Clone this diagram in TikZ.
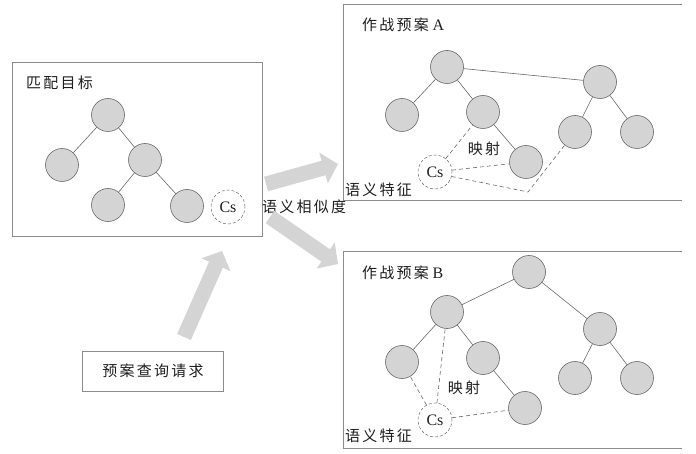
\documentclass[tikz,border=0pt]{standalone}
\usepackage{fontspec}
\setmainfont{Liberation Serif}
\newfontfamily\cjk[LetterSpace=15]{Noto Sans CJK SC}
\usetikzlibrary{arrows.meta}
\definecolor{nodegray}{RGB}{212,212,212}
\definecolor{linegray}{RGB}{105,105,105}
\definecolor{boxgray}{RGB}{140,140,140}
\definecolor{arrowgray}{RGB}{212,212,212}
\definecolor{textgray}{RGB}{30,30,30}

\begin{document}
\begin{tikzpicture}[x=1pt, y=-1pt,
    vertex/.style={circle, draw=linegray, fill=nodegray, minimum size=33pt, inner sep=0pt, line width=0.6pt},
    csnode/.style={circle, draw=linegray, densely dashed, minimum size=34pt, inner sep=0pt, text=textgray, font=\fontsize{16}{16}\selectfont, line width=0.5pt},
    edge/.style={draw=linegray, line width=0.6pt},
    mapedge/.style={draw=linegray, dash pattern=on 4pt off 3pt, line width=0.6pt},
    boxline/.style={draw=boxgray, line width=0.7pt},
    cntext/.style={text=textgray, inner sep=0pt, font=\fontsize{15}{18}\selectfont},
    bigarrow/.style={draw=arrowgray, line width=15pt, -{Triangle[width=31pt, length=15pt]}}]
\useasboundingbox (0,0) rectangle (696,454);

% matching target
\draw[boxline] (12,62) rectangle (262,236);
\node[cntext, anchor=west] (titleM) at (26,83) {\cjk 匹配目标};
\node[vertex] (m1) at (108,115) {};
\node[vertex] (m2) at (62,165) {};
\node[vertex] (m3) at (145,160) {};
\node[vertex] (m4) at (108,205) {};
\node[vertex] (m5) at (187,206) {};
\node[csnode] (csM) at (228,207) {Cs};
\draw[edge] (m1) -- (m2);
\draw[edge] (m1) -- (m3);
\draw[edge] (m3) -- (m4);
\draw[edge] (m3) -- (m5);
\node[cntext, anchor=west] (simtext) at (262,207) {\cjk 语义相似度};

% plan A
\draw[boxline] (682,4) -- (343,4) -- (343,200) -- (682,200);
\node[cntext, anchor=west] (titleA) at (362,25) {{\cjk 作战预案} {\fontsize{16}{18}\selectfont A}};
\node[vertex] (a1) at (447,67) {};
\node[vertex] (a2) at (402,115) {};
\node[vertex] (a3) at (483,112) {};
\node[vertex] (a4) at (526,162) {};
\node[vertex] (a5) at (600,82) {};
\node[vertex] (a6) at (575,132) {};
\node[vertex] (a7) at (637,132) {};
\node[csnode] (csA) at (435,172) {Cs};
\coordinate (bendA) at (528,192);
\draw[edge] (a1) -- (a2);
\draw[edge] (a1) -- (a3);
\draw[edge] (a3) -- (a4);
\draw[edge] (a1) -- (a5);
\draw[edge] (a5) -- (a6);
\draw[edge] (a5) -- (a7);
\draw[mapedge] (csA) -- (a3);
\draw[mapedge] (csA) -- (a4);
\draw[mapedge] (csA.-15) -- (bendA) -- (a6);
\node[cntext] (mapA) at (484,149) {\cjk 映射};
\node[cntext, anchor=west] (semA) at (345,190) {\cjk 语义特征};

% plan B
\draw[boxline] (682,251) -- (343,251) -- (343,448) -- (682,448);
\node[cntext, anchor=west] (titleB) at (362,273) {{\cjk 作战预案} {\fontsize{16}{18}\selectfont B}};
\node[vertex] (b1) at (529,272) {};
\node[vertex] (b2) at (447,312) {};
\node[vertex] (b3) at (600,329) {};
\node[vertex] (b4) at (402,362) {};
\node[vertex] (b5) at (483,358) {};
\node[vertex] (b6) at (525,408) {};
\node[vertex] (b7) at (575,378) {};
\node[vertex] (b8) at (637,378) {};
\node[csnode] (csB) at (435,420) {Cs};
\draw[edge] (b1) -- (b2);
\draw[edge] (b1) -- (b3);
\draw[edge] (b2) -- (b4);
\draw[edge] (b2) -- (b5);
\draw[edge] (b5) -- (b6);
\draw[edge] (b3) -- (b7);
\draw[edge] (b3) -- (b8);
\draw[mapedge] (csB) -- (b4);
\draw[mapedge] (csB) -- (b2);
\draw[mapedge] (csB) -- (b6);
\node[cntext] (mapB) at (464,388) {\cjk 映射};
\node[cntext, anchor=west] (semB) at (345,436) {\cjk 语义特征};

% query and arrows
\node[boxline, cntext, minimum width=141pt, minimum height=40pt] (query) at (153,371) {\cjk 预案查询请求};
\coordinate (upS) at (184,337);
\coordinate (upE) at (222,251);
\coordinate (toAS) at (266,184);
\coordinate (toAE) at (338,164);
\coordinate (toBS) at (270,217);
\coordinate (toBE) at (338,264);
\draw[bigarrow] (upS) -- (upE);
\draw[bigarrow] (toAS) -- (toAE);
\draw[bigarrow] (toBS) -- (toBE);
\end{tikzpicture}
\end{document}
